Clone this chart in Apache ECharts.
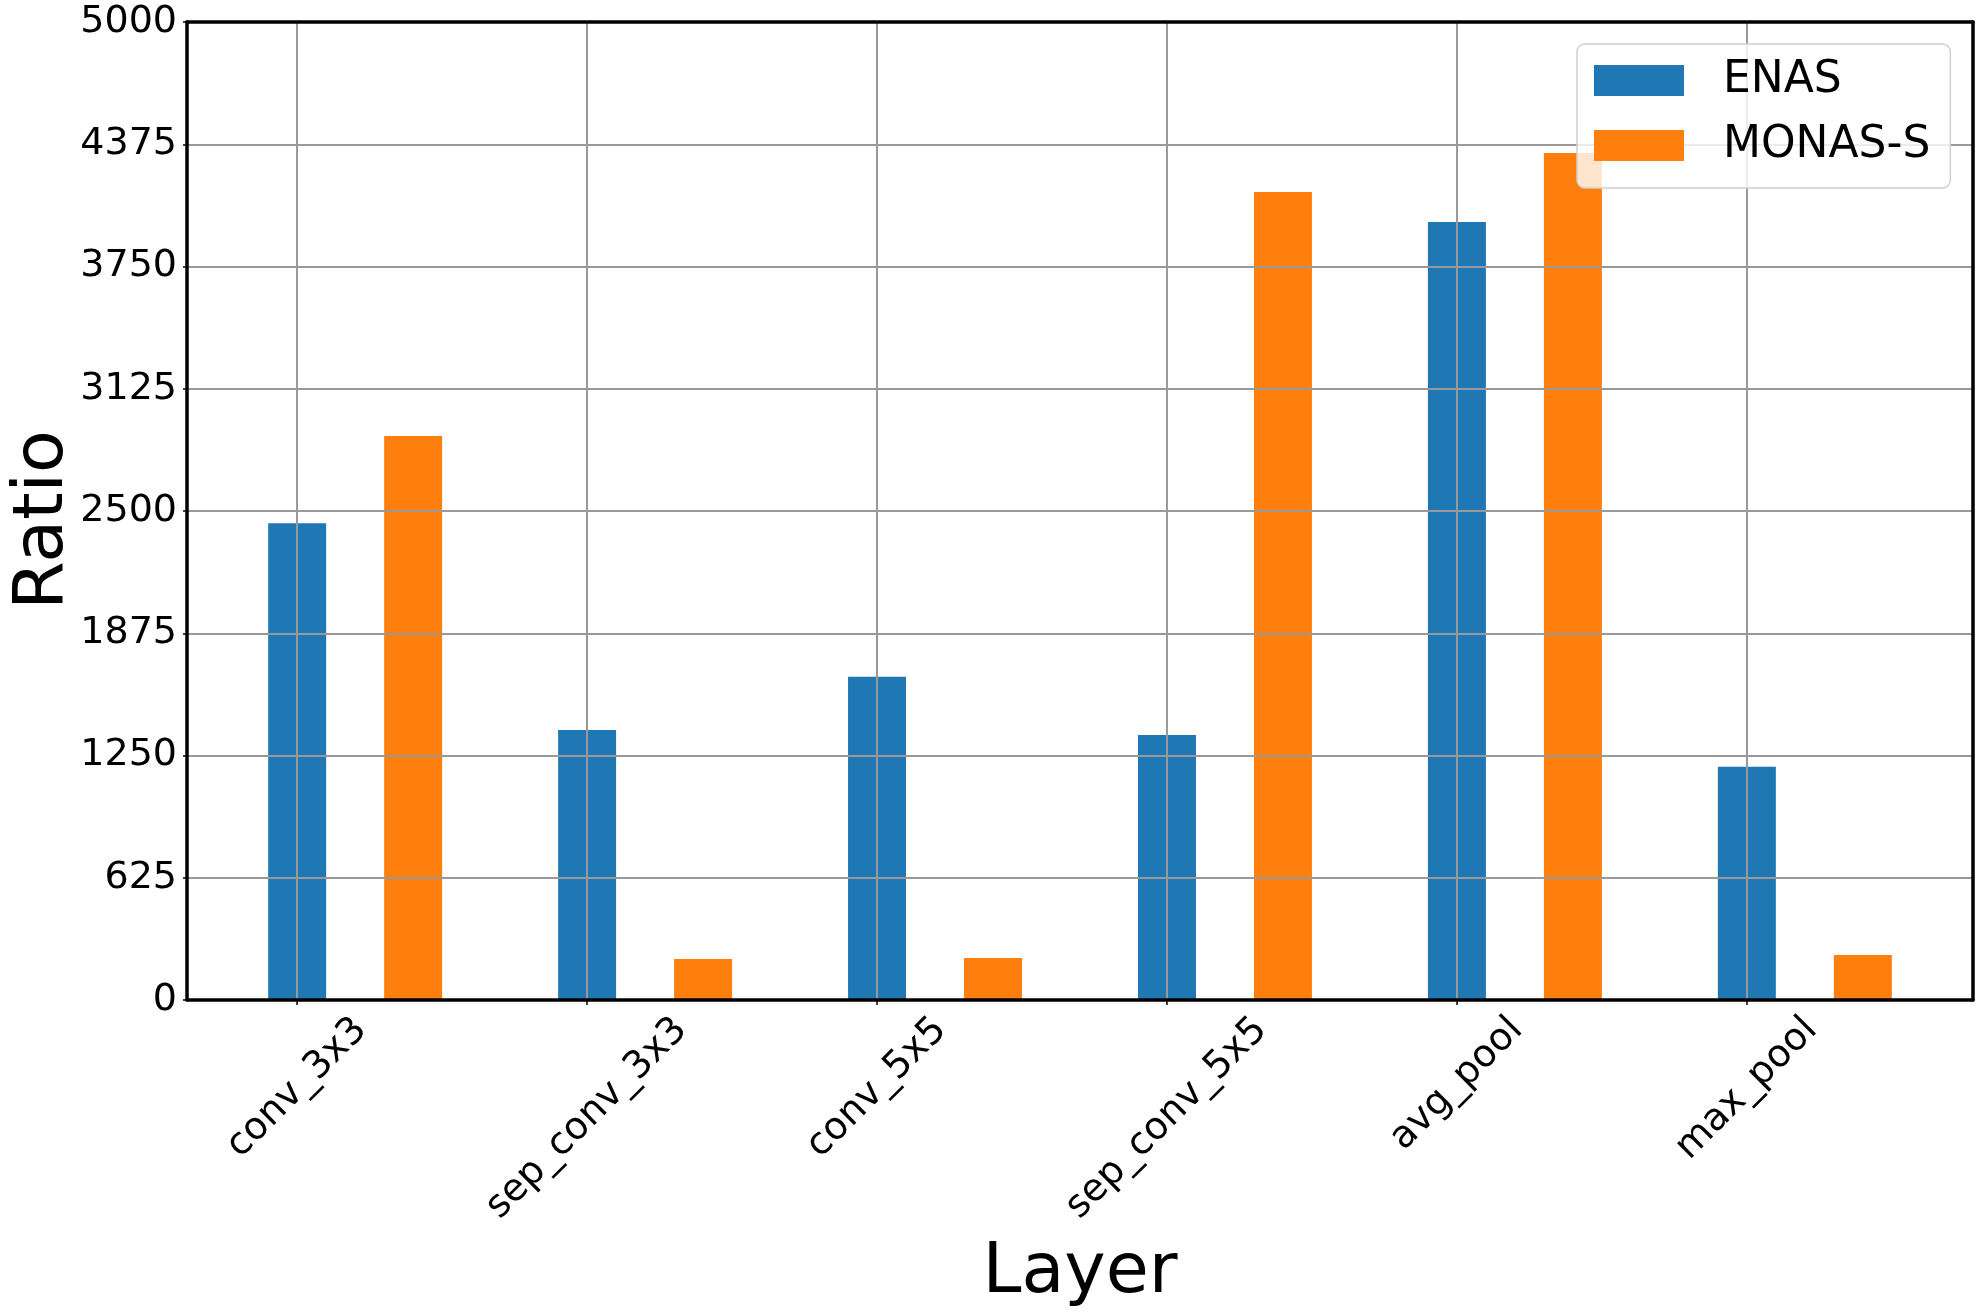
<!DOCTYPE html>
<html>
<head>
<meta charset="utf-8">
<script src="https://cdn.jsdelivr.net/npm/echarts@6/dist/echarts.min.js"></script>
<style>
html,body{margin:0;padding:0;background:#fff;}
#chart{width:1983px;height:1313px;}
</style>
</head>
<body>
<div id="chart"></div>
<script>
// ---- data ----
const categories = ['conv_3x3', 'sep_conv_3x3', 'conv_5x5', 'sep_conv_5x5', 'avg_pool', 'max_pool'];
const enasValues = [2437, 1380, 1653, 1355, 3978, 1193];
const monasValues = [2883, 210, 215, 4131, 4330, 230];
const seriesNames = ['ENAS', 'MONAS-S'];
const yTicks = [0, 625, 1250, 1875, 2500, 3125, 3750, 4375, 5000];

// ---- layout / style ----
const FONT = '"DejaVu Sans", sans-serif';
const LABEL_FS = 38;
const gridLeft = 187, gridRight = 10, gridTop = 22, gridBottom = 313;
const xMin = -0.38, xMax = 5.78;
const plotW = 1983 - gridLeft - gridRight;
const barW = plotW / (xMax - xMin) * 0.2;
const offset = 0.4;

// measure label widths to mimic centered rotated labels
const cv = document.createElement('canvas').getContext('2d');
cv.font = LABEL_FS + 'px ' + FONT;
const rich = {};
categories.forEach((c, i) => {
  const W = cv.measureText(c).width;
  const s = 24 + 0.354 * W;
  const P = 1.414 * s;
  rich['l' + i] = {
    fontSize: LABEL_FS, fontFamily: FONT, color: '#000',
    padding: [P, P, 0, 0]
  };
});

const frameAxis = {
  show: true, z: 4,
  axisLine: {show: true, onZero: false, lineStyle: {color: '#000', width: 3.5}},
  axisTick: {show: false}, axisLabel: {show: false}, splitLine: {show: false}
};

const chart = echarts.init(document.getElementById('chart'), null, {renderer: 'canvas'});
chart.setOption({
  animation: false,
  backgroundColor: '#fff',
  textStyle: {fontFamily: FONT},
  grid: {
    left: gridLeft, right: gridRight, top: gridTop, bottom: gridBottom,
    show: false,
    containLabel: false, outerBoundsMode: 'none'
  },
  legend: {
    orient: 'vertical',
    left: 1577, top: 44,
    padding: [14.5, 20, 20.5, 17],
    itemGap: 21,
    itemWidth: 90, itemHeight: 31,
    icon: 'rect',
    backgroundColor: 'rgba(255,255,255,0.8)',
    borderColor: '#d0d0d0', borderWidth: 1.5, borderRadius: 8,
    textStyle: {fontSize: 44, fontFamily: FONT, color: '#000', lineHeight: 32, padding: [12, 0, 0, 34]},
    z: 10,
    data: seriesNames
  },
  xAxis: [{
    type: 'value',
    min: xMin, max: xMax,
    z: 3,
    name: 'Layer',
    nameLocation: 'middle',
    nameGap: 239,
    nameMoveOverlap: false,
    nameTextStyle: {fontSize: 70, fontFamily: FONT, color: '#000'},
    axisLine: {show: true, onZero: false, lineStyle: {color: '#000', width: 3.5}},
    axisTick: {show: true, customValues: categories.map((c, i) => i), length: 5, lineStyle: {color: '#000', width: 1.5}},
    axisLabel: {
      customValues: categories.map((c, i) => i),
      rotate: 45,
      margin: 0,
      align: 'center',
      verticalAlign: 'middle',
      fontSize: LABEL_FS, fontFamily: FONT, color: '#000',
      formatter: v => '{l' + Math.round(v) + '|' + categories[Math.round(v)] + '}',
      rich: rich
    },
    splitLine: {show: true, lineStyle: {color: '#999', width: 2}}
  }, Object.assign({type: 'value', position: 'top', min: xMin, max: xMax}, frameAxis)],
  yAxis: [{
    type: 'value',
    min: yTicks[0], max: yTicks[yTicks.length - 1], interval: yTicks[1] - yTicks[0],
    z: 3,
    name: 'Ratio',
    nameLocation: 'middle',
    nameGap: 108,
    nameRotate: 90,
    nameMoveOverlap: false,
    nameTextStyle: {fontSize: 70, fontFamily: FONT, color: '#000', padding: [0, 18, 0, 0]},
    axisLine: {show: true, onZero: false, lineStyle: {color: '#000', width: 3.5}},
    axisTick: {show: true, length: 4, lineStyle: {color: '#000', width: 1.5}},
    axisLabel: {margin: 10, fontSize: LABEL_FS, fontFamily: FONT, color: '#000', formatter: v => String(v)},
    splitLine: {show: true, lineStyle: {color: '#999', width: 2}}
  }, Object.assign({type: 'value', position: 'right', min: yTicks[0], max: yTicks[yTicks.length - 1]}, frameAxis)],
  series: [
    {
      name: seriesNames[0], type: 'bar', z: 2,
      barWidth: barW, barGap: '-100%',
      itemStyle: {color: '#1f77b4'},
      data: enasValues.map((v, i) => [i, v])
    },
    {
      name: seriesNames[1], type: 'bar', z: 2,
      barWidth: barW, barGap: '-100%',
      itemStyle: {color: '#ff7f0e'},
      data: monasValues.map((v, i) => [i + offset, v])
    }
  ]
});
</script>
</body>
</html>
